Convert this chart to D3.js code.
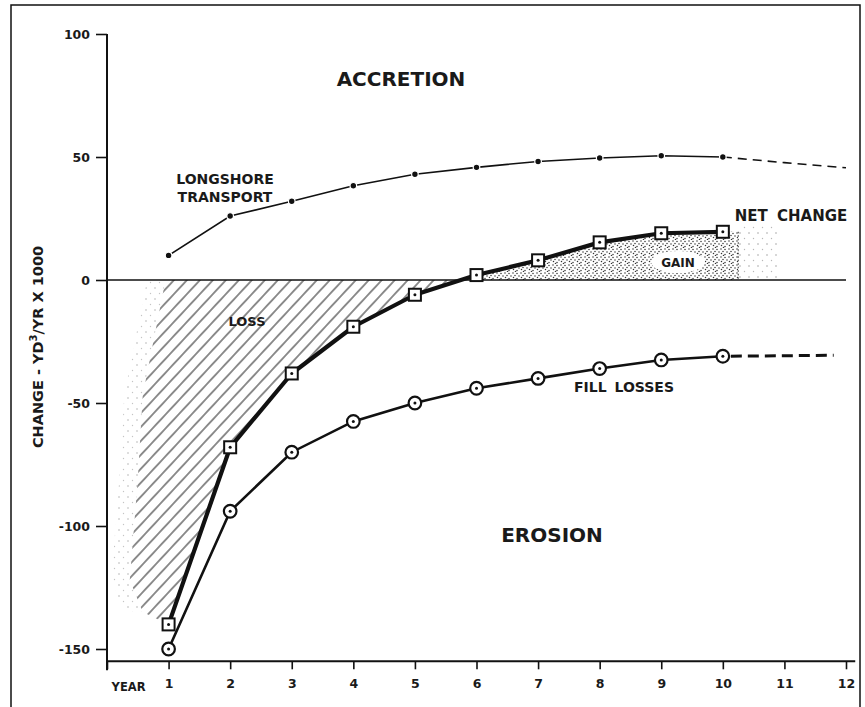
<!DOCTYPE html>
<html lang="en">
<head>
<meta charset="UTF-8">
<title>Beach fill change</title>
<script src="https://d3js.org/d3.v7.min.js"></script>
<style>
  body { margin: 0; background: #fff; }
  svg text { font-family: "DejaVu Sans", sans-serif; font-weight: bold; fill: #1a1a1a; }
</style>
</head>
<body>
<div id="chart"></div>
<script>
// values (yd3/yr x 1000)
const years = [1, 2, 3, 4, 5, 6, 7, 8, 9, 10];
const longshore = [10, 26, 32, 38.3, 43, 45.8, 48.2, 49.6, 50.5, 50];
const longshoreExtYears = [10, 11, 12];
const longshoreExt = [50, 47.7, 45.6];
const netChange = [-140, -68, -38, -19, -6, 2, 8, 15.3, 19, 19.6];
const fillLosses = [-150, -94, -70, -57.5, -50, -44, -40, -36, -32.5, -31];
const fillExtYears = [10, 11.8];
const fillExt = [-31, -30.6];
const yTicks = [-150, -100, -50, 0, 50, 100];
const xTicks = [0, 1, 2, 3, 4, 5, 6, 7, 8, 9, 10, 11, 12];
// left edge of the hatched loss area, and end of the gain area
const lossEdgeYears = [0.95, 0.58, 0.5, 0.37, 0.58];
const lossEdgeValues = [0, -47, -81, -122, -135];
const gainEndYear = 10.25;
const gainFadeYears = [10.25, 10.9];
const gainFadeTop = 23;

const W = 865, H = 707;
const svg = d3.select("#chart").append("svg")
    .attr("width", W).attr("height", H);

const x = d3.scaleLinear().domain([0, 12]).range([107, 846]);
const y = d3.scaleLinear().domain([-150, 100]).range([649, 34]);
const axisY = y(-155);

// patterns
const defs = svg.append("defs");
const hatch = defs.append("pattern")
    .attr("id", "hatch").attr("patternUnits", "userSpaceOnUse")
    .attr("width", 9.5).attr("height", 9.5)
    .attr("patternTransform", "rotate(43)");
hatch.append("line").attr("x1", 4.75).attr("y1", 0).attr("x2", 4.75).attr("y2", 9.5)
    .attr("stroke", "#333").attr("stroke-width", 1.1);

const dots = defs.append("pattern")
    .attr("id", "dots").attr("patternUnits", "userSpaceOnUse")
    .attr("width", 8).attr("height", 8);
[[1, 1], [5, 1.5], [3, 3.5], [7, 4], [1.5, 5.5], [5, 6.5], [3.5, 7.5]].forEach(p =>
  dots.append("circle").attr("cx", p[0]).attr("cy", p[1]).attr("r", 0.75).attr("fill", "#333"));

const sparse = defs.append("pattern")
    .attr("id", "sparse").attr("patternUnits", "userSpaceOnUse")
    .attr("width", 9).attr("height", 11);
sparse.append("circle").attr("cx", 2).attr("cy", 2).attr("r", 0.8).attr("fill", "#666");
sparse.append("circle").attr("cx", 6.5).attr("cy", 7.5).attr("r", 0.7).attr("fill", "#888");

// frame
svg.append("rect").attr("x", 11).attr("y", 5).attr("width", 849).attr("height", 720)
    .attr("fill", "none").attr("stroke", "#111").attr("stroke-width", 1.5);

const area = d3.line().x(d => x(d[0])).y(d => y(d[1]));

// zero crossing of net change
let cross = 6;
for (let i = 1; i < years.length; i++) {
  if (netChange[i - 1] < 0 && netChange[i] >= 0) {
    const t = -netChange[i - 1] / (netChange[i] - netChange[i - 1]);
    cross = years[i - 1] + t * (years[i] - years[i - 1]);
  }
}

// loss area
const lossPts = [];
lossEdgeYears.forEach((yr, i) => lossPts.push([yr, lossEdgeValues[i]]));
years.forEach((yr, i) => { if (yr < cross) lossPts.push([yr, netChange[i]]); });
lossPts.push([cross, 0]);
// soft stippled fringe left of the hatching
const fringe = lossEdgeYears.map((yr, i) => [yr - 0.3, lossEdgeValues[i]])
    .concat(lossEdgeYears.map((yr, i) => [yr, lossEdgeValues[i]]).reverse());
svg.append("path").attr("d", area(fringe) + "Z").attr("fill", "url(#sparse)").attr("opacity", 0.5);
svg.append("path").attr("d", area(lossPts) + "Z").attr("fill", "url(#hatch)");

// gain area
const gainPts = [[cross, 0]];
years.forEach((yr, i) => { if (yr > cross) gainPts.push([yr, netChange[i]]); });
gainPts.push([gainEndYear, netChange[netChange.length - 1]]);
gainPts.push([gainEndYear, 0]);
svg.append("path").attr("d", area(gainPts) + "Z").attr("fill", "url(#dots)");
svg.append("rect")
    .attr("x", x(gainFadeYears[0])).attr("y", y(gainFadeTop))
    .attr("width", x(gainFadeYears[1]) - x(gainFadeYears[0]))
    .attr("height", y(0) - y(gainFadeTop))
    .attr("fill", "url(#sparse)").attr("opacity", 0.6);
svg.append("line")
    .attr("x1", x(gainEndYear)).attr("x2", x(gainEndYear))
    .attr("y1", y(netChange[netChange.length - 1])).attr("y2", y(0))
    .attr("stroke", "#333").attr("stroke-width", 1).attr("stroke-dasharray", "1.5,2");
svg.append("ellipse").attr("cx", 678).attr("cy", 262).attr("rx", 27).attr("ry", 11).attr("fill", "#fff");
svg.append("text").attr("x", 678).attr("y", 267).attr("text-anchor", "middle")
    .style("font-size", "12px").text("GAIN");

// zero line
svg.append("line").attr("x1", x(0)).attr("x2", x(12)).attr("y1", y(0)).attr("y2", y(0))
    .attr("stroke", "#111").attr("stroke-width", 1.6);

// axes
const yAxis = svg.append("g").attr("transform", `translate(${x(0)},0)`)
    .call(d3.axisLeft(y).tickValues(yTicks).tickSize(11).tickPadding(6)
        .tickFormat(d => String(d)));
yAxis.select(".domain").remove();
yAxis.selectAll(".tick line").attr("stroke", "#111").attr("stroke-width", 1.6);
yAxis.selectAll(".tick text").style("font-size", "12.5px").attr("fill", "#1a1a1a");

const xAxis = svg.append("g").attr("transform", `translate(0,${axisY})`)
    .call(d3.axisBottom(x).tickValues(xTicks).tickSize(8).tickPadding(10)
        .tickFormat(d => d === 0 ? "" : String(d)));
xAxis.select(".domain").remove();
xAxis.selectAll(".tick line").attr("stroke", "#111").attr("stroke-width", 1.6);
xAxis.selectAll(".tick text").style("font-size", "12.5px").attr("fill", "#1a1a1a");

svg.append("line").attr("x1", x(0)).attr("x2", x(0)).attr("y1", y(100)).attr("y2", axisY + 9)
    .attr("stroke", "#111").attr("stroke-width", 2);
svg.append("line").attr("x1", x(0)).attr("x2", x(12.15)).attr("y1", axisY).attr("y2", axisY)
    .attr("stroke", "#111").attr("stroke-width", 2);

svg.append("text").attr("x", x(0.35)).attr("y", 691).attr("text-anchor", "middle")
    .style("font-size", "11.5px").text("YEAR");

// y title
const yt = svg.append("text").attr("transform", "translate(43,347) rotate(-90)")
    .attr("text-anchor", "middle").style("font-size", "14.5px");
yt.append("tspan").text("CHANGE - YD");
yt.append("tspan").attr("dy", -6).style("font-size", "10px").text("3");
yt.append("tspan").attr("dy", 6).text("/YR X 1000");

const line = d3.line().x(d => x(d[0])).y(d => y(d[1]));

// longshore transport
svg.append("path").attr("d", line(years.map((yr, i) => [yr, longshore[i]])))
    .attr("fill", "none").attr("stroke", "#111").attr("stroke-width", 1.6);
svg.append("path").attr("d", line(longshoreExtYears.map((yr, i) => [yr, longshoreExt[i]])))
    .attr("fill", "none").attr("stroke", "#111").attr("stroke-width", 1.6)
    .attr("stroke-dasharray", "9,6");
svg.selectAll(".ls").data(years).enter().append("circle")
    .attr("cx", d => x(d)).attr("cy", (d, i) => y(longshore[i])).attr("r", 3.3)
    .attr("fill", "#111").attr("stroke", "#fff").attr("stroke-width", 1.2);

// fill losses
svg.append("path").attr("d", line(years.map((yr, i) => [yr, fillLosses[i]])))
    .attr("fill", "none").attr("stroke", "#111").attr("stroke-width", 2.6);
svg.append("path").attr("d", line(fillExtYears.map((yr, i) => [yr, fillExt[i]])))
    .attr("fill", "none").attr("stroke", "#111").attr("stroke-width", 3)
    .attr("stroke-dasharray", "11,6").attr("stroke-dashoffset", -8);
const fl = svg.selectAll(".fl").data(years).enter().append("g")
    .attr("transform", (d, i) => `translate(${x(d)},${y(fillLosses[i])})`);
fl.append("circle").attr("r", 6.3).attr("fill", "#fff").attr("stroke", "#111").attr("stroke-width", 2.2);
fl.append("circle").attr("r", 1.5).attr("fill", "#111");

// net change
svg.append("path").attr("d", line(years.map((yr, i) => [yr, netChange[i]])))
    .attr("fill", "none").attr("stroke", "#111").attr("stroke-width", 4.2)
    .attr("stroke-linejoin", "round");
const nc = svg.selectAll(".nc").data(years).enter().append("g")
    .attr("transform", (d, i) => `translate(${x(d)},${y(netChange[i])})`);
nc.append("rect").attr("x", -6).attr("y", -6).attr("width", 12).attr("height", 12)
    .attr("fill", "#fff").attr("stroke", "#111").attr("stroke-width", 2);
nc.append("circle").attr("r", 1.5).attr("fill", "#111");

// labels
svg.append("text").attr("x", 401).attr("y", 86).attr("text-anchor", "middle")
    .style("font-size", "20px").text("ACCRETION");
svg.append("text").attr("x", 552).attr("y", 542).attr("text-anchor", "middle")
    .style("font-size", "20px").text("EROSION");
svg.append("text").attr("x", 225).attr("y", 184).attr("text-anchor", "middle")
    .style("font-size", "14px").text("LONGSHORE");
svg.append("text").attr("x", 225).attr("y", 202).attr("text-anchor", "middle")
    .style("font-size", "14px").text("TRANSPORT");
svg.append("text").attr("x", 791).attr("y", 221).attr("text-anchor", "middle")
    .style("font-size", "15px").style("word-spacing", "4px").text("NET CHANGE");
svg.append("text").attr("x", 247).attr("y", 326).attr("text-anchor", "middle")
    .style("font-size", "13px").text("LOSS");
svg.append("text").attr("x", 624).attr("y", 392).attr("text-anchor", "middle")
    .style("font-size", "14px").style("word-spacing", "3px").text("FILL LOSSES");
</script>
</body>
</html>
